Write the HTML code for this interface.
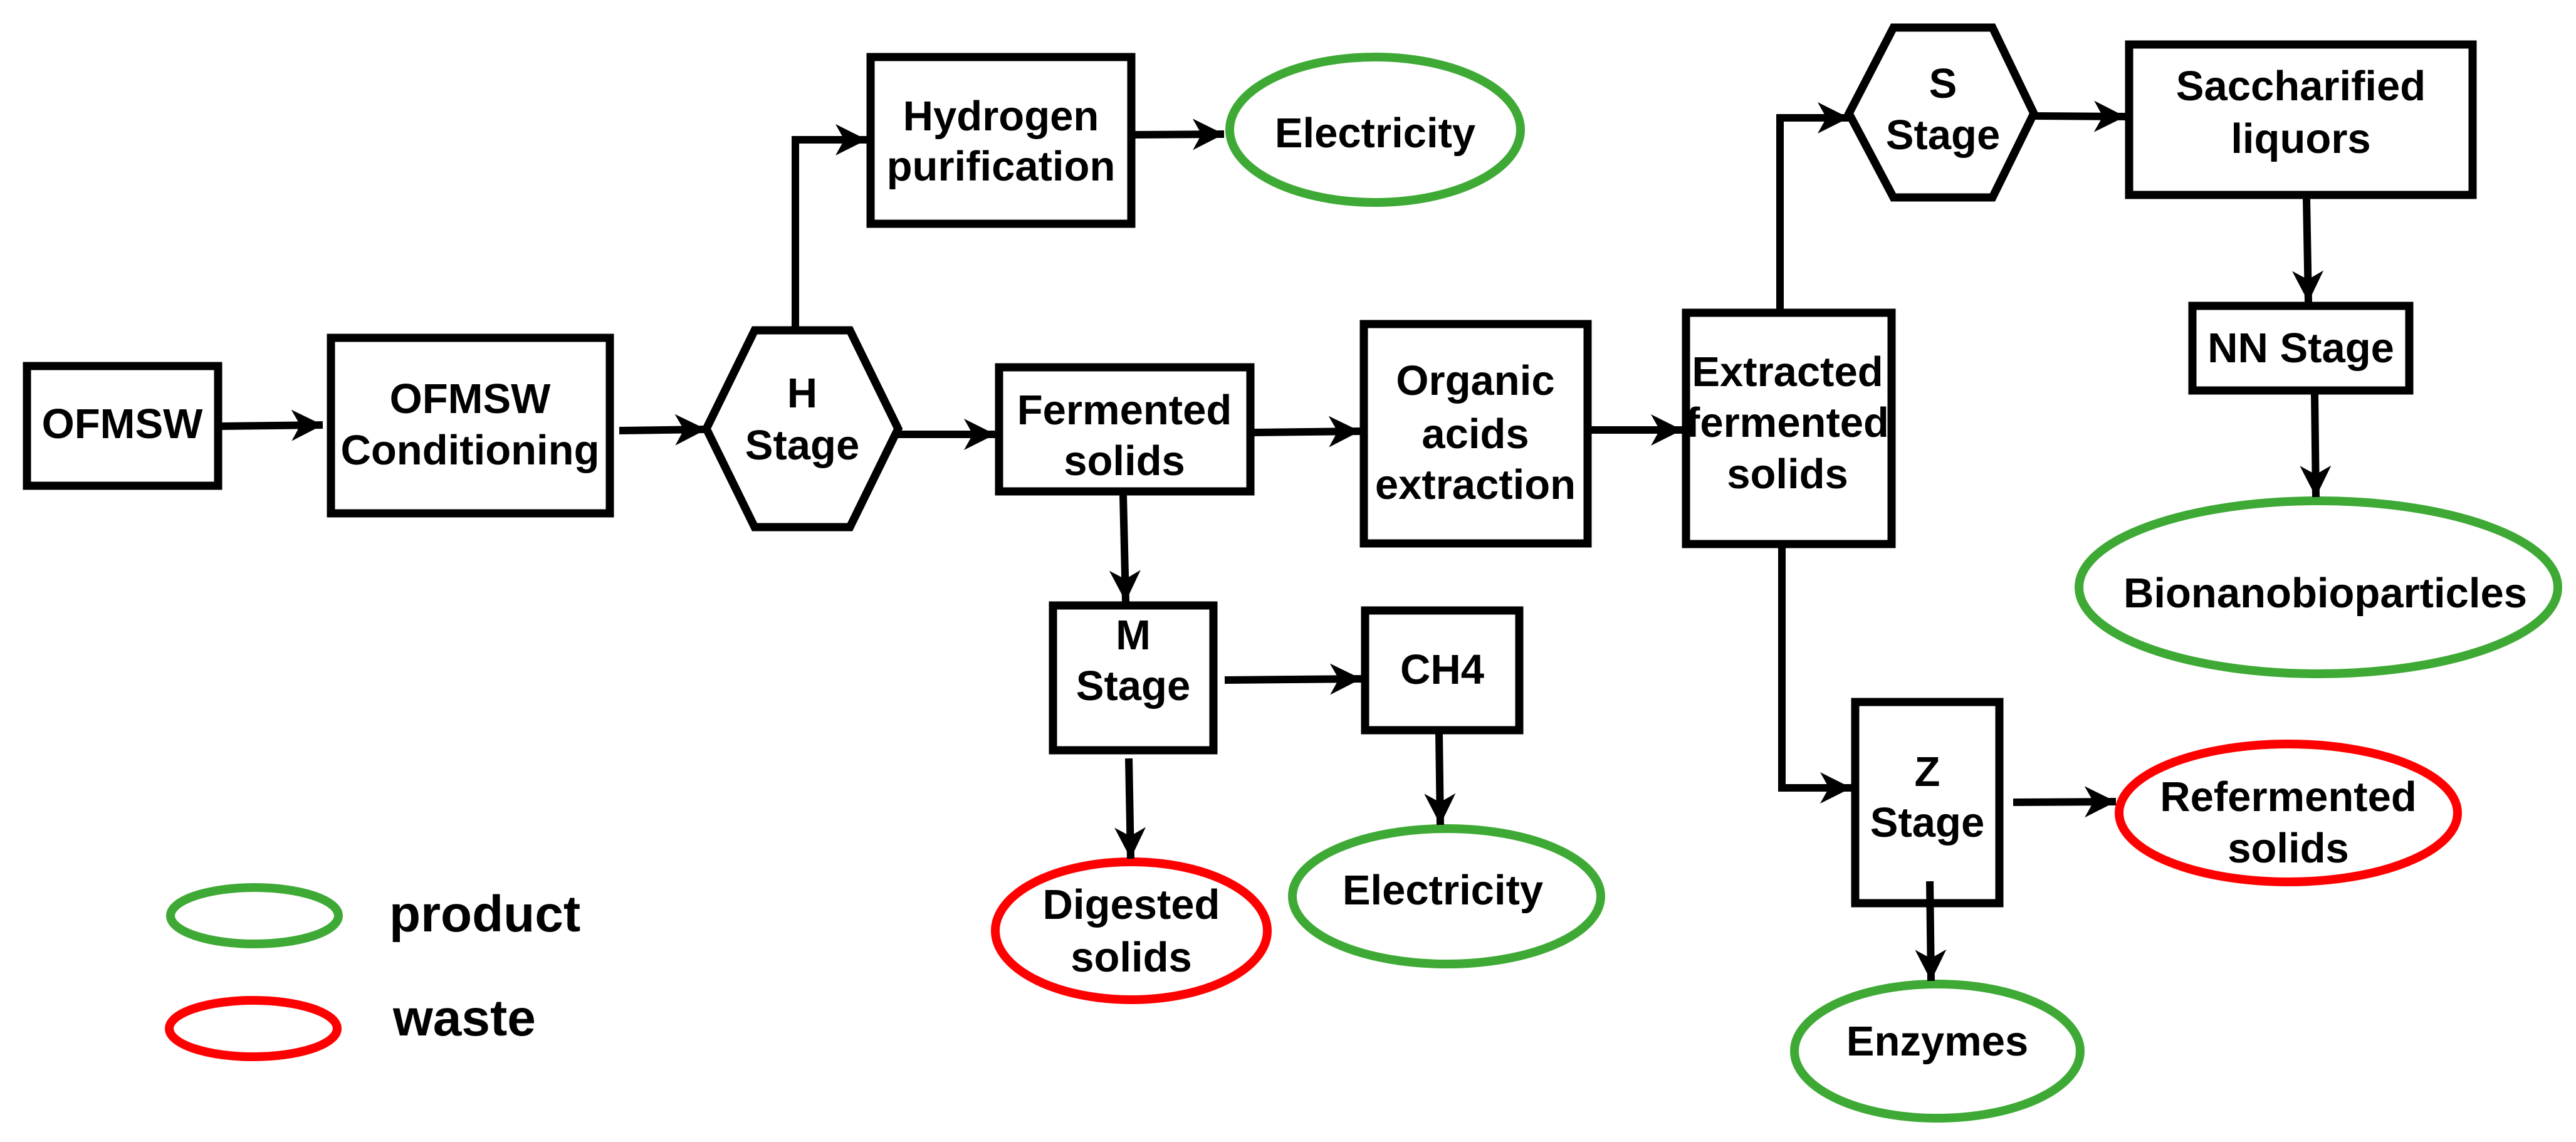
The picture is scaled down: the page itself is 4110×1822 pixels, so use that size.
<!DOCTYPE html>
<html><head><meta charset="utf-8"><style>
html,body{margin:0;padding:0;background:#fff;}
svg{display:block;}
text{font-family:"Liberation Sans",Arial,sans-serif;font-weight:bold;font-size:67px;fill:#000;text-anchor:middle;}
</style></head><body>
<svg width="4110" height="1822" viewBox="0 0 4110 1822" xmlns="http://www.w3.org/2000/svg">
<defs>
<marker id="a" markerUnits="userSpaceOnUse" markerWidth="60" markerHeight="60" refX="50" refY="25" orient="auto">
<path d="M0,0 L50,25 L0,50 L14,25 z" fill="#000"/>
</marker>
</defs>
<g fill="none" stroke="#000" stroke-width="13">
<rect x="43" y="584" width="305" height="191"/>
<rect x="528" y="539" width="445" height="280"/>
<polygon points="1127,684 1204,527 1356,527 1433,684 1356,841 1204,841"/>
<rect x="1389" y="91" width="416" height="266"/>
<rect x="1594" y="586" width="401" height="198"/>
<rect x="2176" y="517" width="357" height="350"/>
<rect x="2690" y="499" width="328" height="369"/>
<polygon points="2950,181 3021,44 3179,44 3245,181 3179,315 3021,315"/>
<rect x="3397" y="71" width="548" height="240"/>
<rect x="3498" y="488" width="346" height="135"/>
<rect x="1680" y="966" width="256" height="231"/>
<rect x="2178" y="974" width="246" height="191"/>
<rect x="2960" y="1120" width="230" height="321"/>
</g>
<g fill="none" stroke="#3eaa35" stroke-width="14">
<ellipse cx="2194" cy="207" rx="232" ry="116"/>
<ellipse cx="3699" cy="937" rx="382" ry="138"/>
<ellipse cx="2308" cy="1430" rx="246" ry="108"/>
<ellipse cx="3091" cy="1677" rx="228" ry="107"/>
<ellipse cx="406" cy="1461" rx="134" ry="45"/>
</g>
<g fill="none" stroke="#f00" stroke-width="14">
<ellipse cx="1805" cy="1485" rx="217" ry="110"/>
<ellipse cx="3651" cy="1297" rx="270" ry="110"/>
<ellipse cx="404" cy="1641" rx="134" ry="45"/>
</g>
<g fill="none" stroke="#000" stroke-width="12" marker-end="url(#a)">
<path d="M354,680 L515,678"/>
<path d="M988,687 L1127,685"/>
<path d="M1269,527 L1269,223 L1383,223"/>
<path d="M1811,215 L1953,214"/>
<path d="M1433,693 L1588,693"/>
<path d="M2001,690 L2170,688"/>
<path d="M2539,686 L2684,686"/>
<path d="M2840,499 L2840,188 L2950,188"/>
<path d="M3245,185 L3391,186"/>
<path d="M3680,317 L3683,482"/>
<path d="M3693,629 L3695,793"/>
<path d="M1792,790 L1796,960"/>
<path d="M1954,1085 L2172,1083"/>
<path d="M2296,1171 L2298,1316"/>
<path d="M1801,1210 L1804,1370"/>
<path d="M2843,874 L2843,1257 L2954,1257"/>
<path d="M3212,1280 L3376,1279"/>
<path d="M3079,1406 L3081,1565"/>
</g>
<text x="195" y="699">OFMSW</text>
<text x="750" y="659">OFMSW</text>
<text x="750" y="741">Conditioning</text>
<text x="1280" y="650">H</text>
<text x="1280" y="733">Stage</text>
<text x="1597" y="208">Hydrogen</text>
<text x="1597" y="288">purification</text>
<text x="2194" y="235">Electricity</text>
<text x="1794" y="677">Fermented</text>
<text x="1794" y="758">solids</text>
<text x="2354" y="630">Organic</text>
<text x="2354" y="715">acids</text>
<text x="2354" y="796">extraction</text>
<text x="2852" y="616">Extracted</text>
<text x="2852" y="697">fermented</text>
<text x="2852" y="779">solids</text>
<text x="3100" y="156">S</text>
<text x="3100" y="238">Stage</text>
<text x="3671" y="160">Saccharified</text>
<text x="3671" y="244">liquors</text>
<text x="3671" y="578">NN Stage</text>
<text x="3710" y="969">Bionanobioparticles</text>
<text x="1808" y="1036">M</text>
<text x="1808" y="1117">Stage</text>
<text x="2301" y="1091">CH4</text>
<text x="1805" y="1466">Digested</text>
<text x="1805" y="1550">solids</text>
<text x="2302" y="1443">Electricity</text>
<text x="3075" y="1254">Z</text>
<text x="3075" y="1335">Stage</text>
<text x="3651" y="1294">Refermented</text>
<text x="3651" y="1376">solids</text>
<text x="3091" y="1684">Enzymes</text>
<text x="621" y="1486" style="font-size:82px;text-anchor:start">product</text>
<text x="627" y="1652" style="font-size:82px;text-anchor:start">waste</text>
</svg>
</body></html>
